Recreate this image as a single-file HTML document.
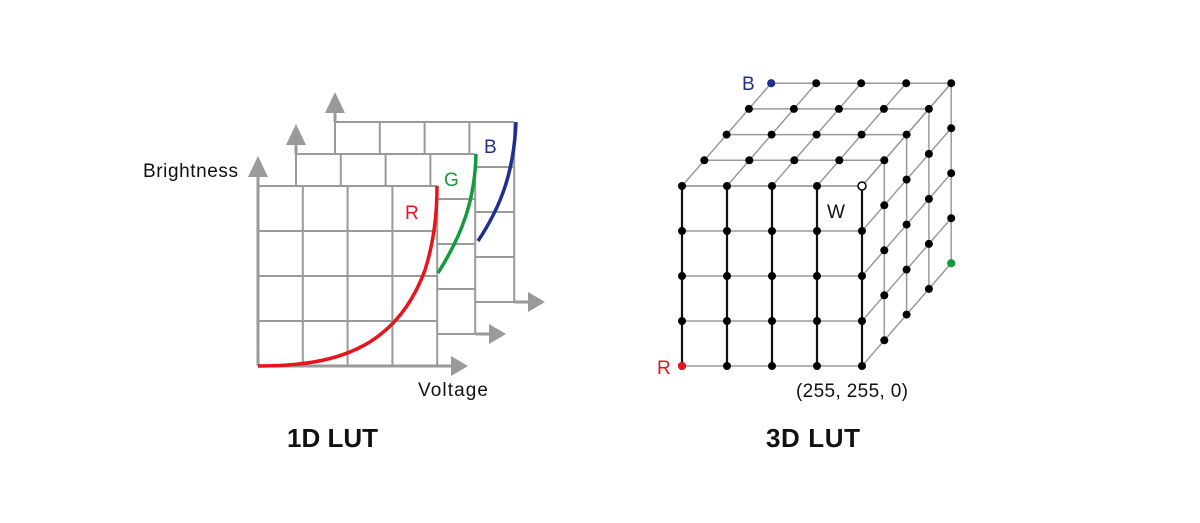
<!DOCTYPE html>
<html><head><meta charset="utf-8"><style>
html,body{margin:0;padding:0;background:#fff;}
svg{display:block;}
text{font-family:"Liberation Sans",sans-serif;}
</style></head><body>
<svg id="s" width="1200" height="523" viewBox="0 0 1200 523" xmlns="http://www.w3.org/2000/svg">
<g id="g1d" stroke="#9a9a9a" stroke-width="2" fill="none"></g>
<path d="M258,366 C330,366 395,352 425,270 C433,245 437,215 437,186" stroke="#e8141c" stroke-width="3.5" fill="none"/>
<path d="M438,273 C462,235 475,200 476,154" stroke="#129a3f" stroke-width="3.5" fill="none"/>
<path d="M478,241 C502,205 514,170 516,122" stroke="#1e2f8f" stroke-width="3.5" fill="none"/>
<text x="143" y="177" font-size="19" fill="#111" textLength="95">Brightness</text>
<text x="405" y="219" font-size="19" fill="#e8141c">R</text>
<text x="444" y="186" font-size="19" fill="#129a3f">G</text>
<text x="484" y="153" font-size="19" fill="#1e2f8f">B</text>
<text x="418" y="396" font-size="19" fill="#111" textLength="70">Voltage</text>
<text x="287" y="447" font-size="26" font-weight="bold" fill="#111" textLength="91">1D LUT</text>
<text x="766" y="447" font-size="26" font-weight="bold" fill="#111" textLength="94">3D LUT</text>
<g id="g3d"></g>
<text x="742" y="90" font-size="19" fill="#1e2f8f">B</text>
<text x="827" y="218" font-size="19" fill="#111">W</text>
<text x="657" y="374" font-size="19" fill="#e8141c">R</text>
<text x="796" y="397" font-size="19" fill="#111" textLength="112">(255, 255, 0)</text>
</svg>
<script>
var NS="http://www.w3.org/2000/svg";
function el(p,t,a){var e=document.createElementNS(NS,t);for(var k in a)e.setAttribute(k,a[k]);p.appendChild(e);return e;}
var g1=document.getElementById("g1d");
function grid(x0,y0){
  el(g1,"rect",{x:x0,y:y0,width:179,height:180,fill:"#fff",stroke:"none"});
  for(var i=0;i<5;i++){var x=x0+i*44.8;el(g1,"line",{x1:x,y1:y0,x2:x,y2:y0+180});}
  for(var j=0;j<5;j++){var y=y0+j*45;el(g1,"line",{x1:x0,y1:y,x2:x0+179,y2:y});}
  el(g1,"line",{x1:x0,y1:y0,x2:x0,y2:y0-12,"stroke-width":3});
  el(g1,"polygon",{points:(x0-10)+","+(y0-9)+" "+(x0+10)+","+(y0-9)+" "+x0+","+(y0-30),fill:"#9a9a9a",stroke:"none"});
  el(g1,"line",{x1:x0+179,y1:y0+180,x2:x0+195,y2:y0+180,"stroke-width":3});
  el(g1,"polygon",{points:(x0+193)+","+(y0+170)+" "+(x0+193)+","+(y0+190)+" "+(x0+210)+","+(y0+180),fill:"#9a9a9a",stroke:"none"});
}
grid(335,122);grid(296,154);grid(258,186);
el(g1,"line",{x1:258,y1:186,x2:258,y2:366,"stroke-width":3});
el(g1,"line",{x1:258,y1:366,x2:437,y2:366,"stroke-width":3});
var g3=document.getElementById("g3d");
var X0=682,Y0=186,S=45,DX=22.3,DY=-25.7;
function P(i,j,k){return [X0+S*i+DX*k,Y0+S*j+DY*k];}
function L(a,b,c,w){el(g3,"line",{x1:a[0],y1:a[1],x2:b[0],y2:b[1],stroke:c,"stroke-width":w});}
var gr="#9a9a9a";
for(var k=0;k<5;k++)L(P(0,0,k),P(4,0,k),gr,1.5);
for(var i=0;i<5;i++)L(P(i,0,0),P(i,0,4),gr,1.5);
for(var j=0;j<5;j++)L(P(4,j,0),P(4,j,4),gr,1.5);
for(var k=1;k<5;k++)L(P(4,0,k),P(4,4,k),gr,1.5);
for(var j=0;j<5;j++)L(P(0,j,0),P(4,j,0),gr,1.5);
for(var i=0;i<5;i++)L(P(i,0,0),P(i,4,0),"#111",2.2);
function D(p,f,s){el(g3,"circle",{cx:p[0],cy:p[1],r:4,fill:f,stroke:s||"none","stroke-width":1.5});}
for(var i=0;i<5;i++)for(var j=0;j<5;j++)D(P(i,j,0),"#000");
for(var k=1;k<5;k++)for(var i=0;i<5;i++)D(P(i,0,k),"#000");
for(var k=1;k<5;k++)for(var j=1;j<5;j++)D(P(4,j,k),"#000");
D(P(0,0,4),"#1e2f8f");D(P(4,4,4),"#129a3f");D(P(0,4,0),"#e8141c");D(P(4,0,0),"#fff","#000");
</script>
</body></html>
